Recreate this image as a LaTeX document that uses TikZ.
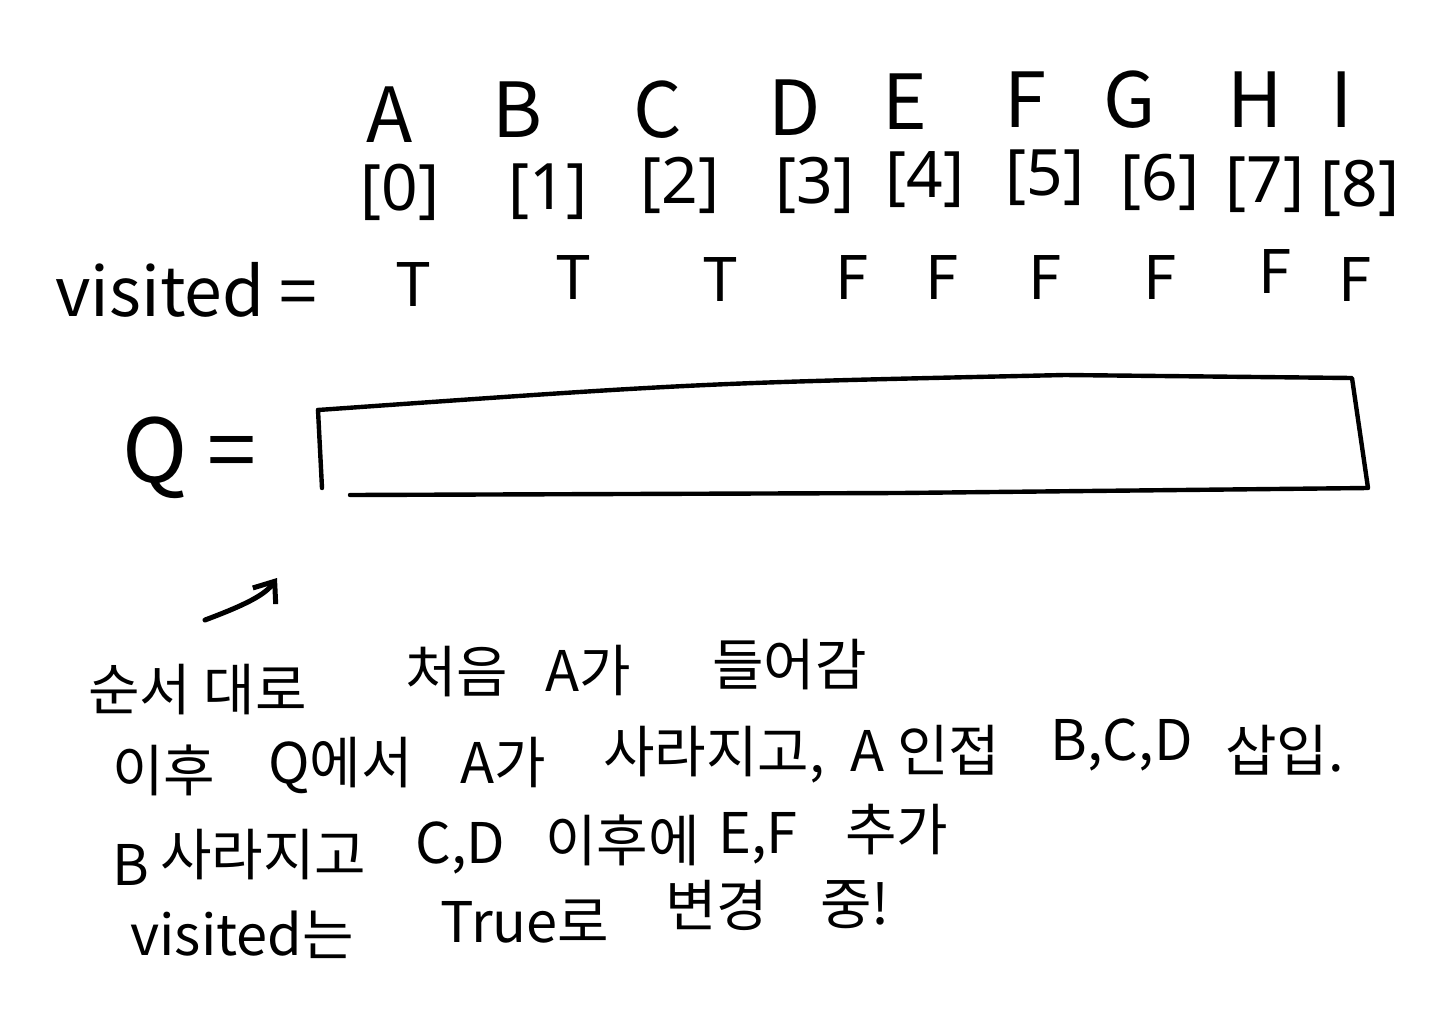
\documentclass[tikz,border=0pt]{standalone}
\usepackage{fontspec}
\newfontfamily\cjk{Noto Sans CJK KR}
\newfontfamily\lat{Noto Sans}
\usetikzlibrary{arrows.meta}
\begin{document}
\begin{tikzpicture}[x=0.5pt,y=-0.5pt,
 big/.style={font=\cjk\fontsize{38}{40}\selectfont, inner sep=0pt},
 idx/.style={font=\lat\fontsize{32}{34}\selectfont, inner sep=0pt},
 tf/.style={font=\cjk\fontsize{30}{32}\selectfont, inner sep=0pt},
 note/.style={font=\cjk\fontsize{28}{30}\selectfont, inner sep=0pt, anchor=west},
 ink/.style={line width=2.2pt, line cap=round, line join=round}]
\useasboundingbox[fill=white] (0,0) rectangle (1440,1012);
% letters
\node[big] (lA) at (390,115) {A};
\node[big] (lB) at (517,110) {B};
\node[big] (lC) at (658,110) {C};
\node[big] (lD) at (795,108) {D};
\node[big] (lE) at (905,102) {E};
\node[big] (lF) at (1025,100) {F};
\node[big] (lG) at (1130,100) {G};
\node[big] (lH) at (1255,100) {H};
\node[big] (lI) at (1342,100) {I};
% indices
\node[idx] (i0) at (400,192) {[0]};
\node[idx] (i1) at (548,192) {[1]};
\node[idx] (i2) at (680,185) {[2]};
\node[idx] (i3) at (815,185) {[3]};
\node[idx] (i4) at (925,180) {[4]};
\node[idx] (i5) at (1045,178) {[5]};
\node[idx] (i6) at (1160,182) {[6]};
\node[idx] (i7) at (1265,185) {[7]};
\node[idx] (i8) at (1360,188) {[8]};
% visited row
\node[tf, anchor=west, font=\cjk\fontsize{34}{36}\selectfont] (vis) at (55,290) {visited =};
\node[tf] (v0) at (413,285) {T};
\node[tf] (v1) at (573,278) {T};
\node[tf] (v2) at (720,280) {T};
\node[tf] (v3) at (852,278) {F};
\node[tf] (v4) at (942,278) {F};
\node[tf] (v5) at (1045,278) {F};
\node[tf] (v6) at (1160,278) {F};
\node[tf] (v7) at (1275,272) {F};
\node[tf] (v8) at (1355,280) {F};
% Q box
\node[anchor=west, inner sep=0pt, font=\cjk\fontsize{44}{46}\selectfont] (qlab) at (122,458) {Q =};
\coordinate (b1) at (318,410);
\coordinate (b2) at (700,383);
\coordinate (b3) at (1065,375);
\coordinate (b4) at (1352,378);
\coordinate (b5) at (1368,488);
\coordinate (b6) at (900,493);
\coordinate (b7) at (350,495);
\coordinate (b8) at (322,488);
\draw[ink] (b1) .. controls (b2) .. (b3) -- (b4) -- (b5) -- (b6) -- (b7);
\draw[ink] (b1) -- (b8);
% arrow
\coordinate (a1) at (205,620);
\coordinate (a2) at (277,578);
\draw[ink, line width=2.5pt, -{Straight Barb[length=9pt,width=14pt]}] (a1) .. controls (245,605) and (265,595) .. (a2);
% notes
\node[note] (n11) at (88,690) {순서 대로};
\node[note] (n12) at (405,672) {처음};
\node[note] (n13) at (545,670) {A가};
\node[note] (n14) at (712,665) {들어감};
\node[note] (n21) at (112,770) {이후};
\node[note] (n22) at (268,765) {Q에서};
\node[note] (n23) at (460,762) {A가};
\node[note] (n24) at (603,755) {사라지고,};
\node[note] (n25) at (850,750) {A 인접};
\node[note] (n26) at (1050,745) {B,C,D};
\node[note] (n27) at (1225,750) {삽입.};
\node[note] (n31) at (112,865) {B};
\node[note] (n32) at (160,855) {사라지고};
\node[note] (n33) at (415,848) {C,D};
\node[note] (n34) at (545,840) {이후에};
\node[note] (n35) at (718,838) {E,F};
\node[note] (n36) at (845,830) {추가};
\node[note] (n41) at (130,935) {visited는};
\node[note] (n42) at (440,922) {True로};
\node[note] (n43) at (665,905) {변경};
\node[note] (n44) at (820,905) {중!};
\end{tikzpicture}
\end{document}
